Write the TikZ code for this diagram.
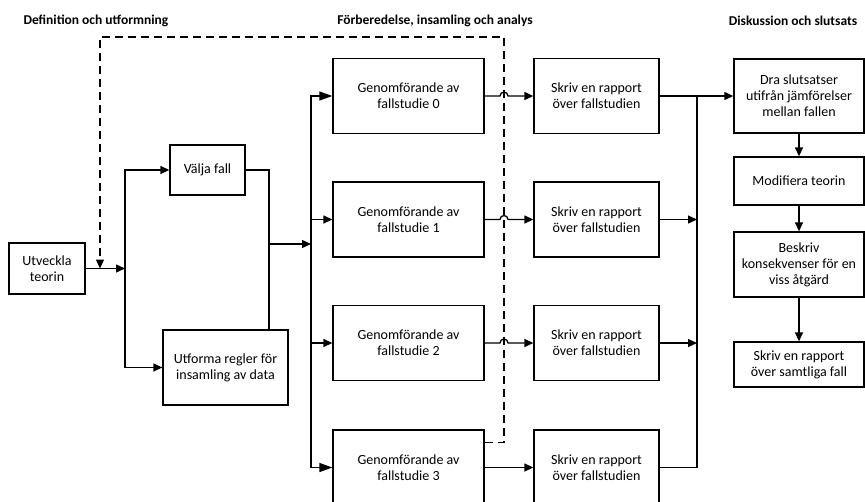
\documentclass[tikz,border=0pt]{standalone}
\usepackage{fontspec}
\setmainfont{Carlito}
\usetikzlibrary{positioning,arrows.meta}

\begin{document}
\begin{tikzpicture}[x=1pt, y=-1pt, >={Triangle[length=9pt,width=8pt]},
    box/.style={draw, line width=1.3pt, align=center, inner sep=2pt, font=\fontsize{14}{16}\selectfont},
    heading/.style={font=\fontsize{13.5}{16}\selectfont\bfseries},
    line/.style={line width=1.3pt},
    bigtip/.style={-{Triangle[length=13pt,width=9pt]}},
    loopline/.style={line width=1.3pt, dash pattern=on 8pt off 5pt}]
    \useasboundingbox (0,0) rectangle (865,501);

    \node[heading, anchor=west] (h1) at (20,21) {Definition och utformning};
    \node[heading] (h2) at (435,21) {Förberedelse, insamling och analys};
    \node[heading] (h3) at (793,21) {Diskussion och slutsats};

    \node[box, minimum width=76pt, minimum height=51pt] (teori) at (47,268.5) {Utveckla\\teorin};
    \node[box, minimum width=75pt, minimum height=50pt] (valja) at (207.5,170) {Välja fall};
    \node[box, minimum width=125pt, minimum height=75pt] (regler) at (225.5,367.5) {Utforma regler för\\insamling av data};

    \foreach \i/\y in {0/96,1/219.5,2/343,3/467.5} {
      \node[box, minimum width=151pt, minimum height=75pt] (fall\i) at (408.5,\y) {Genomförande av\\fallstudie \i};
      \node[box, minimum width=125pt, minimum height=75pt] (rapport\i) at (596.5,\y) {Skriv en rapport\\över fallstudien};
    }

    \node[box, minimum width=130pt, minimum height=74pt] (slutsats) at (799,96) {Dra slutsatser\\utifrån jämförelser\\mellan fallen};
    \node[box, minimum width=130pt, minimum height=48pt] (modifiera) at (799,181) {Modifiera teorin};
    \node[box, minimum width=130pt, minimum height=65pt] (beskriv) at (799,264.5) {Beskriv\\konsekvenser för en\\viss åtgärd};
    \node[box, minimum width=130pt, minimum height=45pt] (samtliga) at (799,364.5) {Skriv en rapport\\över samtliga fall};

    \coordinate (split) at (125,268.5);
    \coordinate (back) at (100,268.5);
    \coordinate (merge) at (269,244);
    \coordinate (fan) at (311,244);
    \coordinate (loop) at (504,37);
    \coordinate (hop) at (500,37);
    \coordinate (join) at (697,96);

    \draw[line,->] (teori) -- (split);
    \draw[line,->] (split) |- (valja);
    \draw[line,->] (split) |- (regler);
    \draw[line] (valja) -| (merge) -- (merge |- regler.north);
    \draw[line,->] (merge) -- (fan);
    \draw[line,bigtip] (fan) |- (fall0);
    \draw[line,->] (fan) |- (fall1);
    \draw[line,->] (fan) |- (fall2);
    \draw[line,bigtip] (fan) |- (fall3);

    \foreach \i in {0,1,2}
      \draw[line,->] (fall\i) -- (hop |- fall\i) arc[start angle=180, end angle=0, radius=4pt] -- (rapport\i);
    \draw[line,->] (fall3) -- (rapport3);

    \draw[line,->] (rapport0) -- (slutsats);
    \draw[line,->] (rapport1) -- (rapport1 -| join);
    \draw[line,->] (rapport2) -- (rapport2 -| join);
    \draw[line] (rapport3) -| (join);

    \draw[line,->] (slutsats) -- (modifiera);
    \draw[line,->] (modifiera) -- (beskriv);
    \draw[line,->] (beskriv) -- (samtliga);

    % feedback from the case studies back to the theory
    \draw[loopline,->] ([yshift=25pt]fall3.east) -| (loop) -| (back);
\end{tikzpicture}
\end{document}
